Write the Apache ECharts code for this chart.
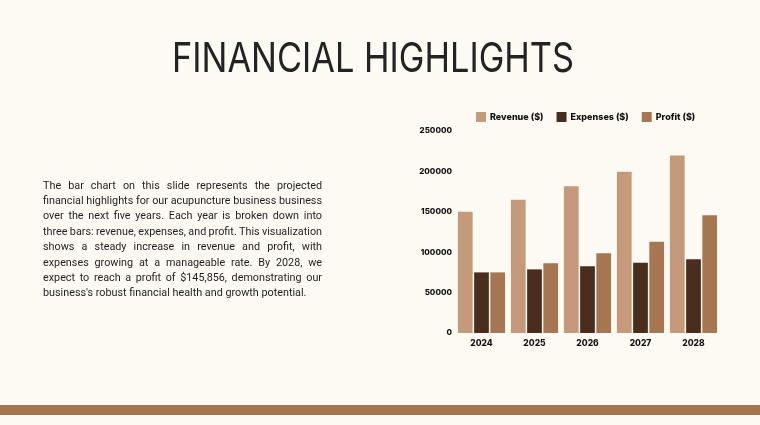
<!DOCTYPE html>
<html>
<head>
<meta charset="utf-8">
<script src="https://cdn.jsdelivr.net/npm/echarts@6/dist/echarts.min.js"></script>
<style>
html,body{margin:0;padding:0;background:#fdfaf4;}
#c{width:760px;height:425px;}
</style>
</head>
<body>
<div id="c"></div>
<script>
const categories = ['2024', '2025', '2026', '2027', '2028'];
const revenue = [150000, 165000, 181500, 199650, 219615];
const expenses = [75000, 78750, 82688, 86822, 91163];
const profit = [75000, 86250, 98812, 112828, 145856];
const yTicks = [0, 50000, 100000, 150000, 200000, 250000];
const seriesNames = ['Revenue ($)', 'Expenses ($)', 'Profit ($)'];
const titleText = 'FINANCIAL HIGHLIGHTS';
const paragraphLines = [
  'The bar chart on this slide represents the projected',
  'financial highlights for our acupuncture business business',
  'over the next five years. Each year is broken down into',
  'three bars: revenue, expenses, and profit. This visualization',
  'shows a steady increase in revenue and profit, with',
  'expenses growing at a manageable rate. By 2028, we',
  'expect to reach a profit of $145,856, demonstrating our',
  "business's robust financial health and growth potential."
];

const colors = ['#c49a7b', '#4a2e1d', '#a67652'];

const ctx = document.createElement('canvas').getContext('2d');

// Justified paragraph built from per-word text elements
const paraFont = '10.8px Roboto';
ctx.font = paraFont;
const paraLeft = 43, paraRight = 322, paraTop = 186, lineH = 15.4;
const paraEls = [];
paragraphLines.forEach((line, i) => {
  const words = line.split(' ');
  const widths = words.map(w => ctx.measureText(w).width);
  const total = widths.reduce((a, b) => a + b, 0);
  const last = i === paragraphLines.length - 1;
  const gap = last ? ctx.measureText(' ').width : (paraRight - paraLeft - total) / (words.length - 1);
  let x = paraLeft;
  words.forEach((w, j) => {
    paraEls.push({
      type: 'text', x: x, y: paraTop + i * lineH,
      style: { text: w, font: paraFont, fill: '#1f1f1f', verticalAlign: 'middle' }
    });
    x += widths[j] + gap;
  });
});

// Title, horizontally compressed to match the narrow display face
const titleFont = '400 41px Inter';
ctx.font = titleFont;
const titleW = ctx.measureText(titleText).width;
const titleTargetW = 402;
const titleEl = {
  type: 'text', x: 172, y: 60, scaleX: titleTargetW / titleW, scaleY: 1,
  style: { text: titleText, font: titleFont, fill: '#232323', verticalAlign: 'middle' }
};

const chart = echarts.init(document.getElementById('c'), null, { renderer: 'canvas' });
const labelFont = { fontFamily: 'Inter', fontWeight: 800, fontSize: 8.5, color: '#111' };
chart.setOption({
  backgroundColor: '#fdfaf4',
  animation: false,
  color: colors,
  legend: {
    data: seriesNames, left: 476, top: 112, padding: 0, itemWidth: 10, itemHeight: 10, itemGap: 13,
    icon: 'rect',
    textStyle: Object.assign({}, labelFont, { fontSize: 9, padding: [0, 0, 0, -1] })
  },
  grid: { left: 455, right: 40, top: 131, bottom: 92, containLabel: false },
  xAxis: {
    type: 'category', data: categories,
    axisLine: { show: false }, axisTick: { show: false },
    axisLabel: Object.assign({}, labelFont, { margin: 6 })
  },
  yAxis: {
    type: 'value', min: yTicks[0], max: yTicks[yTicks.length - 1], interval: yTicks[1] - yTicks[0],
    splitLine: { show: false }, axisLine: { show: false }, axisTick: { show: false },
    axisLabel: Object.assign({}, labelFont, { fontSize: 8, margin: 3, formatter: v => String(v) })
  },
  series: [
    { name: seriesNames[0], type: 'bar', data: revenue, barGap: '10%', barCategoryGap: '11%' },
    { name: seriesNames[1], type: 'bar', data: expenses, barGap: '10%', barCategoryGap: '11%' },
    { name: seriesNames[2], type: 'bar', data: profit, barGap: '10%', barCategoryGap: '11%' }
  ],
  graphic: paraEls.concat([
    titleEl,
    { type: 'rect', left: 0, top: 405, shape: { width: 760, height: 10 }, style: { fill: '#a57550' } }
  ])
});
</script>
</body>
</html>
